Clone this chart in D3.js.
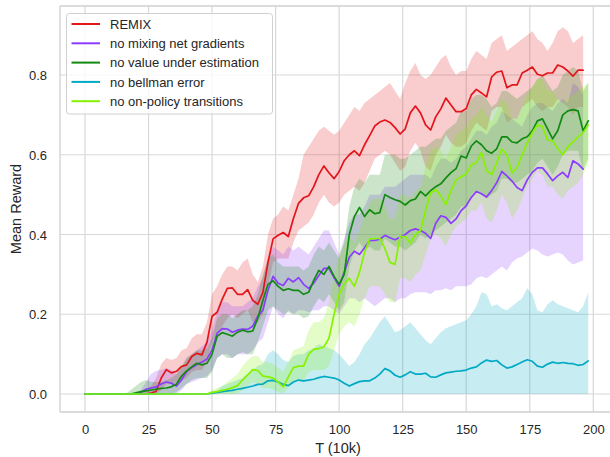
<!DOCTYPE html>
<html>
<head>
<meta charset="utf-8">
<script src="https://cdn.jsdelivr.net/npm/d3@7"></script>
<style>
  html, body { margin: 0; padding: 0; background: #ffffff; }
  svg { display: block; }
  text { font-family: "Liberation Sans", Arial, sans-serif; fill: #262626; }
</style>
</head>
<body>
<svg id="chart" width="610" height="457"></svg>
<script>
// Training steps (T, in units of 10k), sampled every 2 units
const T = [0,2,4,6,8,10,12,14,16,18,20,22,24,26,28,30,32,34,36,38,40,42,44,46,48,50,52,54,56,58,
  60,62,64,66,68,70,72,74,76,78,80,82,84,86,88,90,92,94,96,98,100,102,104,106,108,110,112,114,116,118,
  120,122,124,126,128,130,132,134,136,138,140,142,144,146,148,150,152,154,156,158,160,162,164,166,168,170,
  172,174,176,178,180,182,184,186,188,190,192,194,196,198];

const seriesNames = ["REMIX", "no mixing net gradients", "no value under estimation", "no bellman error", "no on-policy transitions"];
const seriesColors = ["#e3151b", "#8c3cff", "#128a12", "#00a9c4", "#86f200"];

const xTicks = [0, 25, 50, 75, 100, 125, 150, 175, 200];
const yTicks = [0.0, 0.2, 0.4, 0.6, 0.8];

// REMIX (x = 0..196)
const remixMean = [0,0,0,0,0,0,0,0,0,0,0,0,0,0.002,
  0.007,0.04,0.061,0.053,0.057,0.069,0.073,0.094,0.102,0.098,
  0.13,0.195,0.205,0.238,0.265,0.266,0.25,0.25,0.262,0.235,
  0.225,0.255,0.33,0.389,0.398,0.405,0.395,0.44,0.478,0.492,
  0.497,0.52,0.55,0.572,0.555,0.54,0.558,0.585,0.6,0.61,
  0.598,0.625,0.648,0.672,0.682,0.687,0.681,0.668,0.652,0.665,
  0.705,0.722,0.705,0.675,0.662,0.695,0.715,0.742,0.725,0.708,
  0.708,0.716,0.75,0.764,0.755,0.745,0.795,0.807,0.81,0.768,
  0.775,0.775,0.805,0.812,0.82,0.802,0.798,0.805,0.805,0.825,
  0.82,0.81,0.797,0.812,0.812];
const remixLo = [0,0,0,0,0,0,0,0,0,0,0,0,0,0,
  0,0.01,0.025,0.025,0.03,0.035,0.04,0.055,0.06,0.06,
  0.08,0.13,0.15,0.17,0.19,0.2,0.19,0.2,0.21,0.18,
  0.18,0.2,0.27,0.33,0.34,0.34,0.34,0.38,0.41,0.42,
  0.43,0.45,0.48,0.5,0.48,0.47,0.48,0.5,0.51,0.52,
  0.51,0.53,0.56,0.59,0.6,0.61,0.6,0.58,0.56,0.57,
  0.61,0.63,0.61,0.57,0.56,0.6,0.62,0.65,0.63,0.62,
  0.62,0.63,0.66,0.68,0.67,0.66,0.71,0.72,0.72,0.68,
  0.69,0.69,0.72,0.73,0.74,0.72,0.71,0.72,0.72,0.74,
  0.73,0.72,0.7,0.72,0.72];
const remixHi = [0,0,0,0,0,0,0,0,0,0,0,0.005,0.01,0.02,
  0.04,0.075,0.09,0.085,0.09,0.11,0.115,0.14,0.15,0.15,
  0.18,0.25,0.27,0.3,0.32,0.32,0.31,0.33,0.34,0.3,
  0.28,0.32,0.4,0.44,0.45,0.47,0.46,0.5,0.54,0.6,
  0.62,0.64,0.66,0.67,0.66,0.65,0.66,0.68,0.7,0.72,
  0.71,0.73,0.74,0.75,0.76,0.77,0.78,0.76,0.74,0.78,
  0.81,0.83,0.8,0.79,0.8,0.82,0.84,0.85,0.82,0.8,
  0.81,0.81,0.84,0.86,0.85,0.84,0.88,0.89,0.9,0.86,
  0.87,0.88,0.89,0.9,0.91,0.89,0.88,0.86,0.88,0.91,
  0.92,0.91,0.88,0.89,0.9];

// no mixing net gradients (x = 0..196)
const mixMean = [0,0,0,0,0,0,0,0,0,0,0,
  0.004,0.012,0.015,0.018,0.025,0.03,0.027,0.02,0.035,0.056,0.066,0.074,0.08,
  0.088,0.11,0.152,0.164,0.163,0.155,0.16,0.163,0.162,0.17,
  0.195,0.21,0.26,0.295,0.278,0.272,0.29,0.281,0.292,0.275,
  0.265,0.278,0.297,0.315,0.315,0.292,0.27,0.305,0.343,0.358,
  0.35,0.367,0.385,0.385,0.388,0.398,0.392,0.387,0.393,0.4,
  0.41,0.414,0.41,0.403,0.39,0.428,0.447,0.443,0.428,0.439,
  0.46,0.472,0.493,0.508,0.502,0.494,0.51,0.53,0.558,0.547,
  0.534,0.518,0.51,0.537,0.556,0.567,0.567,0.552,0.535,0.547,
  0.556,0.543,0.585,0.577,0.564];
const mixLo = [0,0,0,0,0,0,0,0,0,0,0,
  0,0,0,0,0,0.003,0.002,0,0.01,0.025,0.03,0.035,0.04,
  0.045,0.06,0.09,0.1,0.1,0.09,0.1,0.1,0.1,0.11,
  0.13,0.14,0.18,0.22,0.2,0.19,0.21,0.2,0.21,0.21,
  0.205,0.21,0.21,0.22,0.22,0.21,0.2,0.22,0.24,0.24,
  0.23,0.24,0.23,0.22,0.23,0.24,0.24,0.23,0.24,0.24,
  0.25,0.255,0.255,0.255,0.25,0.26,0.26,0.265,0.26,0.27,
  0.27,0.27,0.275,0.29,0.295,0.29,0.3,0.31,0.32,0.31,
  0.33,0.34,0.345,0.355,0.365,0.36,0.35,0.345,0.35,0.355,
  0.35,0.335,0.325,0.33,0.335];
const mixHi = [0,0,0,0,0,0,0,0,0,0,0,
  0.01,0.03,0.05,0.058,0.06,0.065,0.06,0.05,0.065,0.09,0.1,0.11,0.12,
  0.13,0.16,0.21,0.23,0.23,0.22,0.22,0.22,0.23,0.24,
  0.27,0.29,0.34,0.37,0.36,0.35,0.37,0.36,0.37,0.36,
  0.35,0.37,0.39,0.41,0.41,0.38,0.35,0.39,0.43,0.45,
  0.45,0.47,0.5,0.5,0.5,0.52,0.52,0.52,0.53,0.54,
  0.55,0.55,0.55,0.55,0.54,0.57,0.59,0.59,0.58,0.59,
  0.61,0.62,0.64,0.66,0.66,0.65,0.67,0.68,0.71,0.7,
  0.69,0.68,0.67,0.7,0.72,0.73,0.73,0.72,0.71,0.73,
  0.74,0.73,0.78,0.77,0.75];

// no value under estimation (x = 0..198)
const valueMean = [0,0,0,0,0,0,0,0,0,0,
  0.003,0.006,0.008,0.01,0.012,0.014,0.015,0.018,0.025,0.045,
  0.058,0.068,0.077,0.073,0.077,0.1,0.145,0.154,0.15,0.145,
  0.155,0.16,0.156,0.158,0.19,0.235,0.275,0.284,0.27,0.26,
  0.264,0.26,0.26,0.25,0.255,0.285,0.31,0.3,0.32,0.295,
  0.275,0.3,0.4,0.445,0.468,0.445,0.462,0.452,0.455,0.5,
  0.493,0.487,0.483,0.474,0.485,0.489,0.508,0.497,0.51,0.52,
  0.527,0.542,0.555,0.565,0.597,0.592,0.622,0.635,0.625,0.61,
  0.604,0.615,0.645,0.645,0.632,0.63,0.64,0.645,0.66,0.685,
  0.69,0.665,0.64,0.66,0.7,0.71,0.713,0.71,0.66,0.685];
const valueLo = [0,0,0,0,0,0,0,0,0,0,
  0,0,0,0,0,0,0,0,0.005,0.015,
  0.025,0.035,0.04,0.04,0.04,0.055,0.09,0.1,0.09,0.09,
  0.1,0.105,0.1,0.1,0.13,0.17,0.21,0.22,0.21,0.2,
  0.205,0.2,0.2,0.19,0.195,0.22,0.24,0.23,0.25,0.23,
  0.21,0.23,0.32,0.36,0.38,0.36,0.37,0.36,0.36,0.39,
  0.38,0.37,0.37,0.36,0.37,0.38,0.4,0.39,0.4,0.41,
  0.42,0.43,0.44,0.45,0.47,0.47,0.5,0.51,0.5,0.49,
  0.5,0.51,0.54,0.54,0.53,0.53,0.54,0.55,0.56,0.58,
  0.59,0.57,0.55,0.57,0.6,0.61,0.61,0.61,0.56,0.59];
const valueHi = [0,0,0,0,0,0,0,0,0,0.01,
  0.02,0.03,0.035,0.03,0.03,0.03,0.035,0.04,0.05,0.07,
  0.09,0.1,0.11,0.11,0.115,0.14,0.19,0.2,0.2,0.19,
  0.2,0.21,0.21,0.22,0.25,0.3,0.34,0.35,0.33,0.32,
  0.32,0.32,0.32,0.31,0.32,0.35,0.37,0.36,0.38,0.36,
  0.34,0.38,0.47,0.52,0.54,0.53,0.55,0.55,0.55,0.6,
  0.6,0.6,0.59,0.59,0.6,0.61,0.62,0.62,0.63,0.64,
  0.64,0.66,0.67,0.68,0.71,0.71,0.74,0.75,0.75,0.74,
  0.72,0.73,0.76,0.76,0.75,0.74,0.75,0.76,0.77,0.79,
  0.8,0.78,0.76,0.77,0.8,0.81,0.82,0.81,0.76,0.78];

// no bellman error (x = 0..198)
const bellmanMean = [0,0,0,0,0,0,0,0,0,0,
  0,0,0,0,0,0,0,0,0,0,
  0,0,0,0,0,0.002,0.004,0.006,0.008,0.009,
  0.012,0.014,0.017,0.02,0.024,0.025,0.033,0.034,0.03,0.024,
  0.021,0.03,0.035,0.033,0.035,0.037,0.041,0.044,0.042,0.04,
  0.035,0.027,0.02,0.026,0.031,0.033,0.033,0.04,0.05,0.064,
  0.058,0.047,0.042,0.048,0.056,0.05,0.05,0.052,0.043,0.042,
  0.048,0.053,0.055,0.057,0.058,0.06,0.065,0.068,0.078,0.085,
  0.082,0.084,0.073,0.065,0.068,0.074,0.08,0.086,0.082,0.07,
  0.067,0.075,0.08,0.077,0.079,0.077,0.076,0.072,0.074,0.083];
const bellmanLo = [0,0,0,0,0,0,0,0,0,0, 0,0,0,0,0,0,0,0,0,0,
  0,0,0,0,0,0,0,0,0,0, 0,0,0,0,0,0,0,0,0,0,
  0,0,0,0,0,0,0,0,0,0, 0,0,0,0,0,0,0,0,0,0,
  0,0,0,0,0,0,0,0,0,0, 0,0,0,0,0,0,0,0,0,0,
  0,0,0,0,0,0,0,0,0,0, 0,0,0,0,0,0,0,0,0,0];
const bellmanHi = [0,0,0,0,0,0,0,0,0,0,
  0,0,0,0,0,0,0,0,0,0,
  0,0,0,0,0,0.005,0.01,0.02,0.025,0.03,
  0.035,0.04,0.05,0.06,0.07,0.075,0.1,0.11,0.1,0.085,
  0.08,0.095,0.1,0.1,0.11,0.115,0.125,0.12,0.115,0.11,
  0.1,0.085,0.07,0.08,0.1,0.125,0.14,0.16,0.18,0.195,
  0.175,0.155,0.16,0.17,0.18,0.165,0.15,0.135,0.125,0.14,
  0.155,0.165,0.17,0.175,0.18,0.185,0.2,0.22,0.255,0.25,
  0.22,0.225,0.215,0.21,0.22,0.23,0.24,0.265,0.25,0.21,
  0.205,0.225,0.235,0.225,0.22,0.215,0.21,0.205,0.22,0.255];

// no on-policy transitions (x = 0..198)
const onPolicyMean = [0,0,0,0,0,0,0,0,0,0,
  0,0,0,0,0,0,0,0,0,0,
  0,0,0,0,0,0.004,0.006,0.009,0.012,0.016,
  0.021,0.035,0.048,0.061,0.059,0.045,0.043,0.04,0.03,0.018,
  0.043,0.066,0.07,0.07,0.1,0.112,0.114,0.118,0.14,0.2,
  0.25,0.276,0.29,0.27,0.305,0.355,0.389,0.39,0.39,0.365,
  0.33,0.325,0.395,0.395,0.378,0.4,0.41,0.46,0.505,0.512,
  0.497,0.475,0.51,0.537,0.545,0.552,0.575,0.58,0.606,0.56,
  0.55,0.58,0.614,0.6,0.555,0.568,0.6,0.63,0.655,0.675,
  0.67,0.637,0.635,0.615,0.6,0.62,0.632,0.645,0.655,0.675];
const onPolicyLo = [0,0,0,0,0,0,0,0,0,0,
  0,0,0,0,0,0,0,0,0,0,
  0,0,0,0,0,0,0,0,0,0,
  0.002,0.01,0.02,0.03,0.025,0.015,0.015,0.012,0.005,0.002,
  0.015,0.03,0.035,0.035,0.055,0.06,0.06,0.06,0.07,0.11,
  0.15,0.17,0.18,0.17,0.2,0.24,0.27,0.27,0.27,0.25,
  0.23,0.23,0.29,0.29,0.28,0.3,0.31,0.35,0.39,0.4,
  0.39,0.37,0.4,0.42,0.43,0.44,0.46,0.46,0.48,0.44,
  0.43,0.46,0.5,0.48,0.44,0.46,0.49,0.52,0.54,0.56,
  0.55,0.52,0.52,0.5,0.49,0.51,0.52,0.53,0.55,0.58];
const onPolicyHi = [0,0,0,0,0,0,0,0,0,0,
  0,0,0,0,0,0,0,0,0,0,
  0,0,0,0,0.003,0.01,0.015,0.02,0.03,0.04,
  0.05,0.07,0.085,0.095,0.095,0.08,0.08,0.075,0.065,0.055,
  0.08,0.11,0.115,0.12,0.16,0.18,0.18,0.19,0.23,0.3,
  0.35,0.38,0.4,0.38,0.41,0.45,0.48,0.49,0.49,0.47,
  0.44,0.44,0.5,0.5,0.49,0.51,0.52,0.57,0.61,0.62,
  0.61,0.59,0.62,0.65,0.66,0.67,0.69,0.7,0.72,0.7,
  0.68,0.71,0.74,0.73,0.69,0.69,0.72,0.75,0.77,0.79,
  0.79,0.76,0.76,0.74,0.73,0.74,0.75,0.76,0.77,0.78];

const seriesMean = [remixMean, mixMean, valueMean, bellmanMean, onPolicyMean];
const seriesLo = [remixLo, mixLo, valueLo, bellmanLo, onPolicyLo];
const seriesHi = [remixHi, mixHi, valueHi, bellmanHi, onPolicyHi];

// ---- layout ----
const svg = d3.select("#chart");
const plot = { left: 60, top: 6, right: 616, bottom: 412 };

const x = d3.scaleLinear().domain([0, 200]).range([85, 593.3]);
const y = d3.scaleLinear().domain([0, 0.8]).range([394, 75]);

svg.append("defs").append("clipPath").attr("id", "plotclip")
  .append("rect")
  .attr("x", plot.left).attr("y", plot.top)
  .attr("width", plot.right - plot.left).attr("height", plot.bottom - plot.top);

// grid
const grid = svg.append("g");
grid.selectAll("line.vx").data(xTicks).join("line")
  .attr("x1", d => x(d)).attr("x2", d => x(d))
  .attr("y1", plot.top).attr("y2", plot.bottom)
  .attr("stroke", "#d8d8d8").attr("stroke-width", 1.2);
grid.selectAll("line.hy").data(yTicks).join("line")
  .attr("x1", plot.left).attr("x2", plot.right)
  .attr("y1", d => y(d)).attr("y2", d => y(d))
  .attr("stroke", "#d8d8d8").attr("stroke-width", 1.2);

// spines
const spine = svg.append("g").attr("stroke", "#cfcfcf").attr("stroke-width", 1.3).attr("fill", "none");
spine.append("line").attr("x1", plot.left).attr("x2", plot.left).attr("y1", plot.top).attr("y2", plot.bottom);
spine.append("line").attr("x1", plot.left).attr("x2", plot.right).attr("y1", plot.bottom).attr("y2", plot.bottom);
spine.append("line").attr("x1", plot.left).attr("x2", plot.right).attr("y1", plot.top).attr("y2", plot.top);

// axes (tick labels only, no tick marks)
const xAxis = d3.axisBottom(x).tickValues(xTicks).tickSize(0).tickPadding(0).tickFormat(d3.format("d"));
const gx = svg.append("g").attr("transform", `translate(0,${plot.bottom})`).call(xAxis);
gx.select(".domain").remove();
gx.selectAll("text").attr("y", 22).attr("dy", 0)
  .style("font-size", "13px").style("font-family", "'Liberation Sans', Arial, sans-serif").attr("fill", "#262626");

const yAxis = d3.axisLeft(y).tickValues(yTicks).tickSize(0).tickPadding(0).tickFormat(d3.format(".1f"));
const gy = svg.append("g").attr("transform", `translate(${plot.left},0)`).call(yAxis);
gy.select(".domain").remove();
gy.selectAll("text").attr("x", -13).attr("dy", "0.36em")
  .style("font-size", "13px").style("font-family", "'Liberation Sans', Arial, sans-serif").attr("fill", "#262626");

// axis titles
svg.append("text").attr("x", 338).attr("y", 453).attr("text-anchor", "middle")
  .style("font-size", "14.5px").text("T (10k)");
svg.append("text").attr("transform", "translate(21,209) rotate(-90)").attr("text-anchor", "middle")
  .style("font-size", "14.5px").text("Mean Reward");

// confidence bands and mean lines
const marks = svg.append("g").attr("clip-path", "url(#plotclip)");
const bandLayer = marks.append("g");
const lineLayer = marks.append("g");

seriesNames.forEach((name, i) => {
  const rows = seriesMean[i].map((m, j) => ({ t: T[j], m, lo: seriesLo[i][j], hi: seriesHi[i][j] }));
  const area = d3.area().x(d => x(d.t)).y0(d => y(d.lo)).y1(d => y(d.hi));
  bandLayer.append("path").datum(rows)
    .attr("d", area).attr("fill", seriesColors[i]).attr("fill-opacity", 0.22).attr("stroke", "none");
  const line = d3.line().x(d => x(d.t)).y(d => y(d.m));
  lineLayer.append("path").datum(rows)
    .attr("d", line).attr("fill", "none").attr("stroke", seriesColors[i])
    .attr("stroke-width", 1.7).attr("stroke-linejoin", "round").attr("stroke-linecap", "round");
});

// legend
const legend = svg.append("g");
legend.append("rect").attr("x", 66.5).attr("y", 13.5).attr("width", 206).attr("height", 100.5)
  .attr("rx", 3).attr("fill", "#ffffff").attr("fill-opacity", 0.8)
  .attr("stroke", "#d0d0d0").attr("stroke-width", 1);
seriesNames.forEach((name, i) => {
  const cy = 24 + i * 19.3;
  legend.append("line").attr("x1", 71.5).attr("x2", 100).attr("y1", cy).attr("y2", cy)
    .attr("stroke", seriesColors[i]).attr("stroke-width", 2);
  legend.append("text").attr("x", 110).attr("y", cy).attr("dy", "0.36em")
    .style("font-size", "13px").text(name);
});
</script>
</body>
</html>
